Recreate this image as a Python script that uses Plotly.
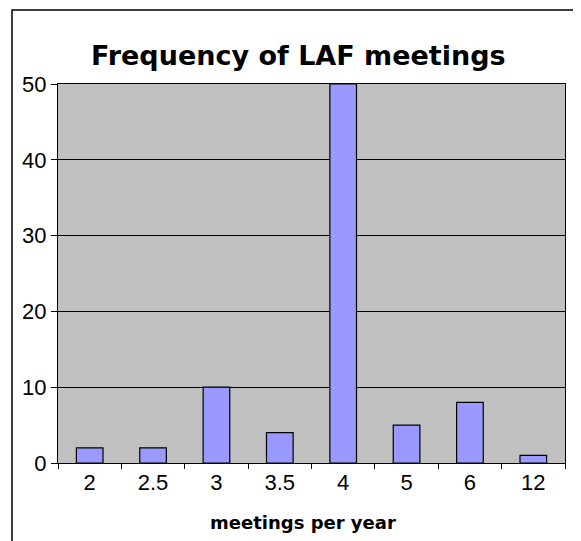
import plotly.graph_objects as go

# data
categories = ["2", "2.5", "3", "3.5", "4", "5", "6", "12"]
counts = [2, 2, 10, 4, 50, 5, 8, 1]
y_ticks = [0, 10, 20, 30, 40, 50]

fig = go.Figure()
fig.add_trace(go.Bar(x=categories, y=counts, width=0.42,
                     marker=dict(color="#9999FF", line=dict(color="black", width=1.2))))

# page body has an 8px margin, so the figure is a bit smaller than the window
fig.update_layout(
    width=573, height=533,
    margin=dict(l=50, r=16, t=76, b=78),
    paper_bgcolor="white", plot_bgcolor="#C0C0C0",
    showlegend=False,
)
fig.update_xaxes(type="category", showline=True, linecolor="black", linewidth=1, mirror=True,
                 ticks="outside", tickson="boundaries", ticklen=5, tickcolor="black",
                 tickfont=dict(family="Liberation Sans", size=22, color="black"),
                 showgrid=False)
fig.update_yaxes(range=[0, 50], tickvals=y_ticks, showline=True, linecolor="black", linewidth=1,
                 mirror=True, ticks="outside", ticklen=6, tickcolor="black",
                 tickfont=dict(family="Liberation Sans", size=22, color="black"),
                 showgrid=True, gridcolor="black", gridwidth=1, zeroline=False)

# chart title and axis title
fig.add_annotation(text="<b>Frequency of LAF meetings</b>", xref="paper", yref="paper",
                   x=0.475, y=1.0765, xanchor="center", yanchor="middle", showarrow=False,
                   font=dict(family="DejaVu Sans", size=27, color="black"))
fig.add_annotation(text="<b>meetings per year</b>", xref="paper", yref="paper",
                   x=0.483, y=-0.156, xanchor="center", yanchor="middle", showarrow=False,
                   font=dict(family="DejaVu Sans", size=18, color="black"))

# outer chart border (bottom edge is cut off by the image)
fig.add_shape(type="rect", xref="paper", yref="paper",
              x0=-0.0907, x1=1.0256, y0=-0.25, y1=1.195,
              line=dict(color="black", width=1.5), fillcolor="rgba(0,0,0,0)", layer="below")

fig.write_html("out.html")
